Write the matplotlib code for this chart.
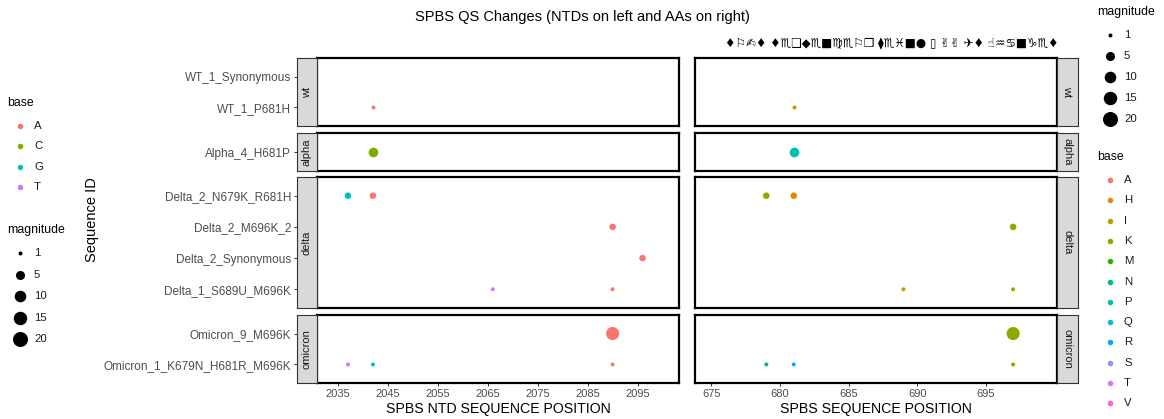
import numpy as np
import matplotlib.pyplot as plt

plt.rcParams['font.family'] = ['Liberation Sans', 'DejaVu Sans']

# sequence ids per facet (top to bottom)
wt_ids = ["WT_1_Synonymous", "WT_1_P681H"]
alpha_ids = ["Alpha_4_H681P"]
delta_ids = ["Delta_2_N679K_R681H", "Delta_2_M696K_2", "Delta_2_Synonymous", "Delta_1_S689U_M696K"]
omicron_ids = ["Omicron_9_M696K", "Omicron_1_K679N_H681R_M696K"]
groups = ["wt", "alpha", "delta", "omicron"]

# NTD changes (left panel)
ntd_seq = ["WT_1_P681H", "Alpha_4_H681P", "Delta_2_N679K_R681H", "Delta_2_N679K_R681H",
           "Delta_2_M696K_2", "Delta_2_Synonymous", "Delta_1_S689U_M696K", "Delta_1_S689U_M696K",
           "Omicron_9_M696K", "Omicron_1_K679N_H681R_M696K", "Omicron_1_K679N_H681R_M696K",
           "Omicron_1_K679N_H681R_M696K"]
ntd_pos = [2042, 2042, 2037, 2042, 2090, 2096, 2066, 2090, 2090, 2037, 2042, 2090]
ntd_base = ["A", "C", "G", "A", "A", "A", "T", "A", "A", "T", "G", "A"]
ntd_mag = [1, 6, 2, 2, 2, 2, 1, 1, 14, 1, 1, 1]

# AA changes (right panel)
aa_seq = ["WT_1_P681H", "Alpha_4_H681P", "Delta_2_N679K_R681H", "Delta_2_N679K_R681H",
          "Delta_2_M696K_2", "Delta_1_S689U_M696K", "Delta_1_S689U_M696K", "Omicron_9_M696K",
          "Omicron_1_K679N_H681R_M696K", "Omicron_1_K679N_H681R_M696K", "Omicron_1_K679N_H681R_M696K"]
aa_pos = [681, 681, 679, 681, 697, 689, 697, 697, 679, 681, 697]
aa_base = ["H", "P", "K", "H", "K", "I", "K", "K", "N", "R", "K"]
aa_mag = [1, 6, 2, 2, 2, 1, 1, 14, 1, 1, 1]

ntd_levels = ["A", "C", "G", "T"]
ntd_colors = ["#F8766D", "#7CAE00", "#00BFC4", "#C77CFF"]
aa_levels = ["A", "H", "I", "K", "M", "N", "P", "Q", "R", "S", "T", "V"]
aa_colors = ["#F8766D", "#E18A00", "#BE9C00", "#8CAB00", "#24B700", "#00BE70",
             "#00C1AB", "#00BBDA", "#00ACFC", "#8B93FF", "#D575FE", "#F962DD"]
mag_breaks = [1, 5, 10, 15, 20]

ntd_ticks = [2035, 2045, 2055, 2065, 2075, 2085, 2095]
aa_ticks = [675, 680, 685, 690, 695]

title = "SPBS QS Changes (NTDs on left and AAs on right)"
# right title was rendered in a symbol font
sub_title = "♦⚐✍♦ ♦♏❑◆♏■♍♏⚐❒ ⧫♏♓■● ▯ ✌✌ ✈♦ ☝♒♋■♑♏♦"

W, H = 1164, 419
fig = plt.figure(figsize=(W / 100, H / 100), dpi=100)


def box(x0, y0, x1, y1):
    return [x0 / W, 1 - y1 / H, (x1 - x0) / W, (y1 - y0) / H]


def mag_size(m):
    # area scaled marker, diameter in px -> scatter size in pt^2
    d = 4 + 11 * np.sqrt((np.asarray(m, float) - 1) / 19)
    return (d * 0.72) ** 2


# legends drawn on an overlay in pixel coordinates
lax = fig.add_axes([0, 0, 1, 1])
lax.set_xlim(0, W)
lax.set_ylim(H, 0)
lax.axis("off")


def draw_legend(x, y, name, labels, colors, sizes, step):
    lax.text(x, y, name, fontsize=8.8, va="center", ha="left")
    for i, lab in enumerate(labels):
        yy = y + 23 + i * step
        lax.scatter([x + 13], [yy], s=sizes[i], color=colors[i], linewidths=0)
        lax.text(x + 27, yy, lab, fontsize=8.2, va="center", ha="left", color="#1A1A1A")


small = [(5.5 * 0.72) ** 2] * 12
draw_legend(7, 103, "base", ntd_levels, ntd_colors, small, 20.3)
draw_legend(7, 230, "magnitude", [str(b) for b in mag_breaks], ["black"] * 5, mag_size(mag_breaks), 21.5)
draw_legend(1097, 12, "magnitude", [str(b) for b in mag_breaks], ["black"] * 5, mag_size(mag_breaks), 21)
draw_legend(1097, 157, "base", aa_levels, aa_colors, small, 20.3)

ntd_cmap = dict(zip(ntd_levels, ntd_colors))
aa_cmap = dict(zip(aa_levels, aa_colors))

rows = [(wt_ids, 58, 126), (alpha_ids, 133, 171), (delta_ids, 177, 308), (omicron_ids, 315, 383)]

for r, (ids, top, bot) in enumerate(rows):
    n = len(ids)
    ylim = (n - 0.4, -0.6)
    last = r == len(rows) - 1

    for side in ["left", "right"]:
        if side == "left":
            ax = fig.add_axes(box(317, top, 679, bot))
            seqs, pos, base, mag, cmap = ntd_seq, ntd_pos, ntd_base, ntd_mag, ntd_cmap
            ax.set_xlim(2030.8, 2103.3)
            ticks = ntd_ticks
        else:
            ax = fig.add_axes(box(695, top, 1057, bot))
            seqs, pos, base, mag, cmap = aa_seq, aa_pos, aa_base, aa_mag, aa_cmap
            ax.set_xlim(673.8, 700.2)
            ticks = aa_ticks

        sel = [i for i, s in enumerate(seqs) if s in ids]
        if sel:
            ax.scatter([pos[i] for i in sel], [ids.index(seqs[i]) for i in sel],
                       s=mag_size([mag[i] for i in sel]),
                       c=[cmap[base[i]] for i in sel], linewidths=0, zorder=3)
        ax.set_ylim(*ylim)
        ax.set_yticks([])
        for sp in ax.spines.values():
            sp.set_color("black")
            sp.set_linewidth(1.6)
        if last:
            ax.set_xticks(ticks)
            ax.tick_params(axis="x", length=2.2, width=0.7, color="#333333",
                           labelcolor="#4D4D4D", labelsize=8, pad=2)
            if side == "left":
                ax.set_xlabel("SPBS NTD SEQUENCE POSITION", fontsize=10.2, labelpad=2.5)
            else:
                ax.set_xlabel("SPBS SEQUENCE POSITION", fontsize=10.2, labelpad=2.5)
        else:
            ax.set_xticks([])

        # facet strip
        if side == "left":
            st = fig.add_axes(box(297, top, 317, bot))
            rot = 90
        else:
            st = fig.add_axes(box(1057, top, 1078, bot))
            rot = -90
        st.set_facecolor("#D9D9D9")
        st.set_xticks([])
        st.set_ylim(*ylim)
        for sp in st.spines.values():
            sp.set_color("#333333")
            sp.set_linewidth(0.8)
        if side == "left":
            st.set_yticks(range(n))
            st.set_yticklabels(ids)
            st.tick_params(axis="y", length=2.2, width=0.7, color="#333333",
                           labelcolor="#4D4D4D", labelsize=8.5, pad=2)
        else:
            st.set_yticks([])
        st.text(0.5, 0.5, groups[r], rotation=rot, transform=st.transAxes,
                ha="center", va="center", fontsize=8, color="#1A1A1A")

fig.text(92 / W, 1 - 220 / H, "Sequence ID", rotation=90, ha="center", va="center", fontsize=10.5)
fig.text(582 / W, 1 - 17 / H, title, ha="center", va="center", fontsize=10.5)
fig.text(892 / W, 1 - 44 / H, sub_title, ha="center", va="center", fontsize=8.5,
         family=["DejaVu Sans"])

fig.savefig("out.png", dpi=100)
